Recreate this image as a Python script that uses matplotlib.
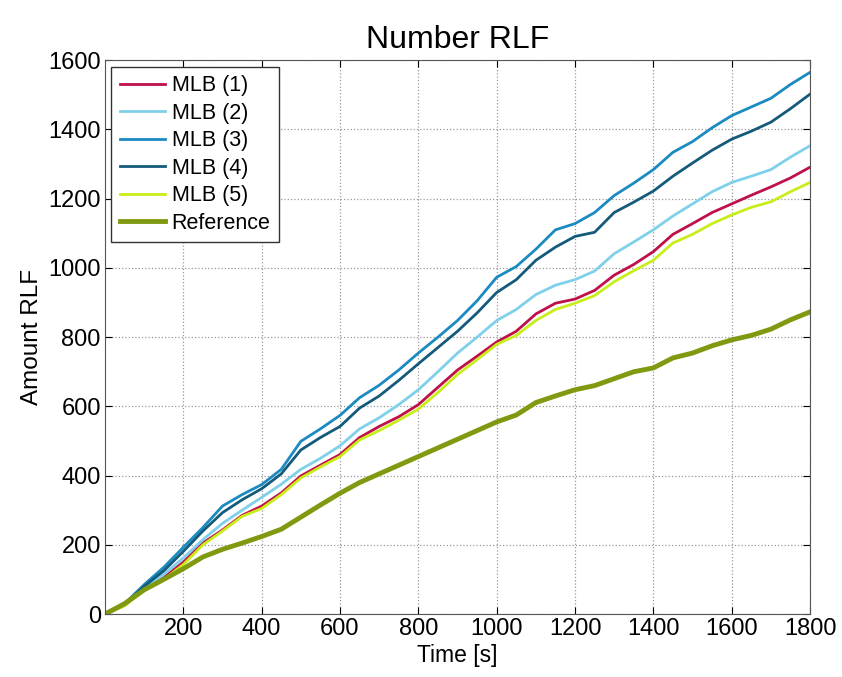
import matplotlib.pyplot as plt

# time axis in seconds (sampled every 50 s)
t = list(range(0, 1801, 50))

mlb1 = [0, 25, 70, 105, 150, 205, 243, 285, 312, 350, 399, 430, 461, 510, 542, 570, 605, 655, 705, 745,
        786, 817, 867, 898, 910, 935, 979, 1010, 1047, 1097, 1128, 1160, 1185, 1210, 1234, 1260, 1291]
mlb2 = [0, 25, 75, 115, 162, 215, 262, 300, 337, 375, 418, 450, 486, 535, 567, 605, 648, 700, 754, 800,
        848, 880, 923, 950, 966, 991, 1041, 1075, 1110, 1150, 1185, 1220, 1247, 1265, 1284, 1320, 1353]
mlb3 = [0, 30, 85, 135, 193, 250, 312, 345, 374, 418, 499, 535, 574, 625, 661, 705, 754, 800, 848, 905,
        973, 1004, 1054, 1110, 1128, 1160, 1209, 1245, 1284, 1334, 1365, 1405, 1440, 1465, 1490, 1530, 1565]
mlb4 = [0, 28, 80, 125, 181, 240, 293, 330, 362, 405, 474, 510, 542, 595, 630, 675, 723, 770, 817, 870,
        929, 966, 1022, 1060, 1091, 1103, 1160, 1190, 1222, 1265, 1303, 1340, 1372, 1395, 1421, 1460, 1502]
mlb5 = [0, 24, 68, 100, 143, 200, 240, 282, 305, 345, 393, 425, 455, 503, 530, 560, 592, 640, 692, 735,
        779, 805, 848, 880, 898, 920, 960, 992, 1022, 1072, 1097, 1128, 1153, 1175, 1191, 1220, 1247]
ref = [0, 30, 70, 100, 131, 165, 187, 205, 224, 245, 280, 315, 349, 380, 405, 430, 455, 480, 505, 530,
       555, 575, 611, 630, 648, 660, 680, 700, 711, 740, 754, 775, 792, 805, 823, 850, 873]

xticks = [200, 400, 600, 800, 1000, 1200, 1400, 1600, 1800]
yticks = [0, 200, 400, 600, 800, 1000, 1200, 1400, 1600]

plt.rcParams['font.family'] = ['Liberation Sans', 'DejaVu Sans']

fig = plt.figure(figsize=(8.42, 6.77), dpi=100)
ax = fig.add_axes([0.1247, 0.093, 0.8373, 0.818])

ax.plot(t, mlb1, color='#C0104A', lw=2, label='MLB (1)')
ax.plot(t, mlb2, color='#7FD0EA', lw=2, label='MLB (2)')
ax.plot(t, mlb3, color='#1A8AC0', lw=2, label='MLB (3)')
ax.plot(t, mlb4, color='#145A7A', lw=2, label='MLB (4)')
ax.plot(t, mlb5, color='#C8EE1A', lw=2, label='MLB (5)')
ax.plot(t, ref, color='#7F9A10', lw=3.5, label='Reference')

ax.set_xlim(0, 1800)
ax.set_ylim(0, 1600)
ax.set_xticks(xticks)
ax.set_yticks(yticks)
ax.tick_params(direction='in', labelsize=17, length=5, top=True, right=True, pad=3)
ax.grid(True, linestyle=':', color='#999999', lw=0.9)
for s in ax.spines.values():
    s.set_color('#555555')

ax.set_xlabel('Time [s]', fontsize=16.5, labelpad=3)
ax.set_ylabel('Amount RLF', fontsize=17.5, labelpad=4)
ax.set_title('Number RLF', fontsize=23, pad=9)

leg = ax.legend(loc='upper left', fontsize=15.5, fancybox=False, edgecolor='#333333',
                handlelength=2.1, handletextpad=0.3, borderaxespad=0.3, labelspacing=0.3,
                borderpad=0.4, framealpha=1)
leg.get_frame().set_linewidth(1)

fig.savefig('out.png', dpi=100)
